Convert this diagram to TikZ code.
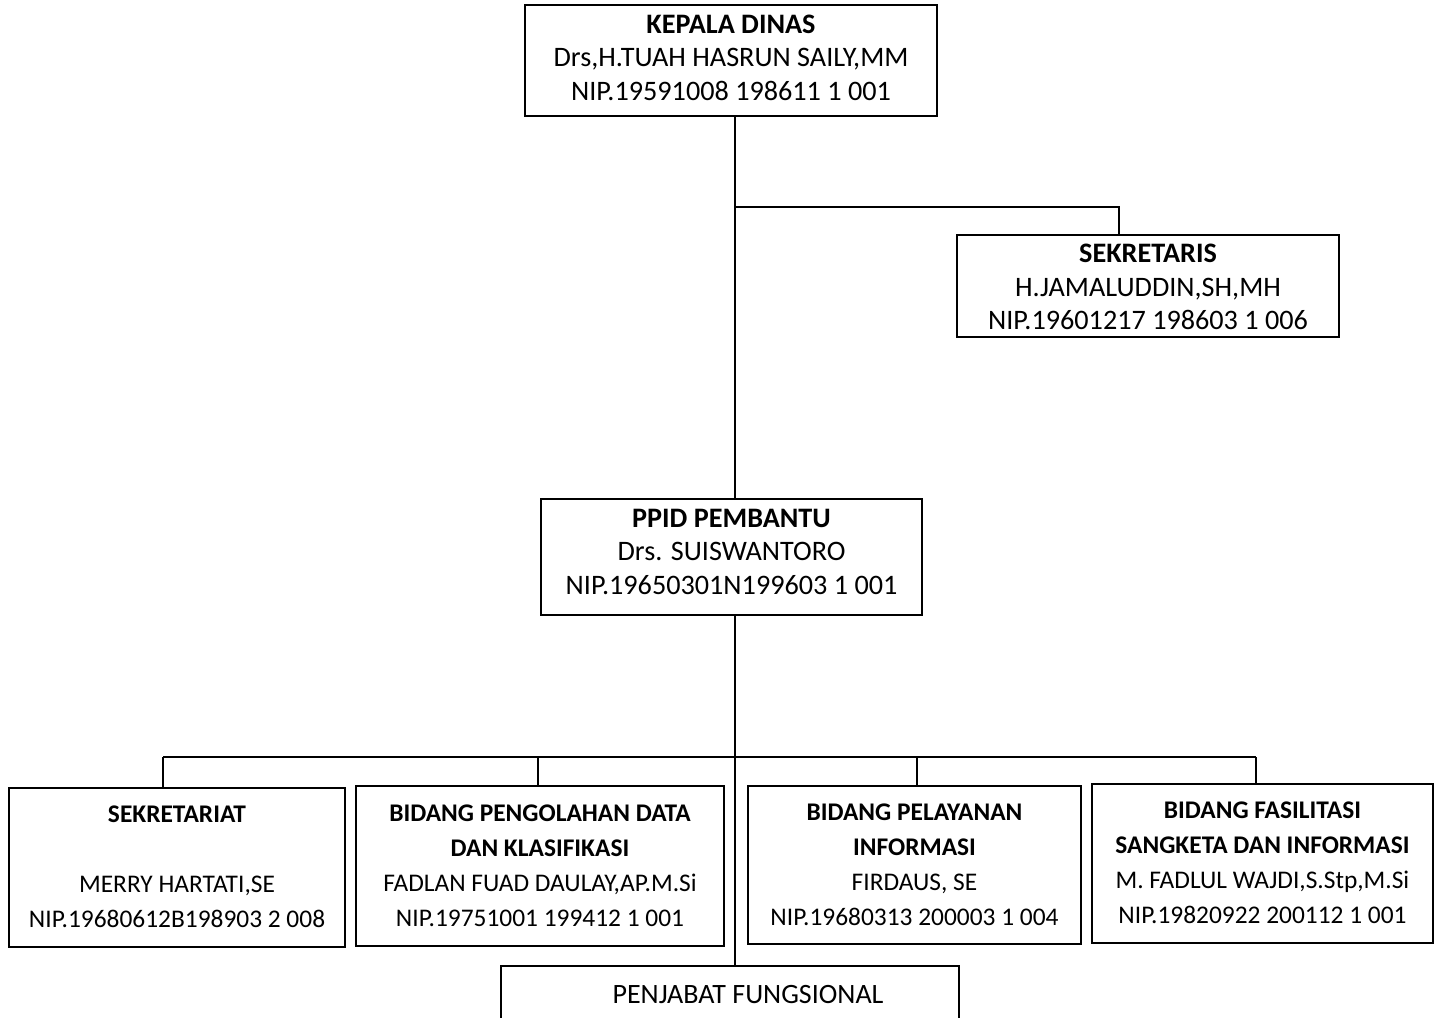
\documentclass[tikz,border=0pt]{standalone}
\usepackage{fontspec}
\setmainfont{Carlito}
\begin{document}
\begin{tikzpicture}[x=1pt,y=-1pt,
  line width=1.8pt,
  box/.style={draw, fill=white, inner sep=0pt},
  txt/.style={align=center, inner sep=0pt},
  topfont/.style={font=\fontsize{28.2}{33.5}\selectfont},
  botfont/.style={font=\fontsize{25.4}{35}\selectfont}]
\useasboundingbox (0,0) rectangle (1436,1018);
\clip (0,0) rectangle (1436,1018);
\coordinate (trunk) at (735,0);
\coordinate (j1) at (735,207);
\coordinate (d1) at (1119,207);
\coordinate (b1) at (163,757);
\coordinate (b2) at (538,757);
\coordinate (b3) at (917,757);
\coordinate (b4) at (1256,757);
% boxes
\node[box, minimum width=412, minimum height=111] (kd) at (731,60.5) {};
\node[box, minimum width=382, minimum height=102] (sk) at (1148,286) {};
\node[box, minimum width=381, minimum height=116] (pp) at (731.5,557) {};
\node[box, minimum width=336, minimum height=159] (s1) at (177,867.5) {};
\node[box, minimum width=368, minimum height=160] (s2) at (540,866) {};
\node[box, minimum width=333, minimum height=158] (s3) at (914.5,865) {};
\node[box, minimum width=341, minimum height=159] (s4) at (1262.5,863.5) {};
\node[box, minimum width=458, minimum height=64] (pf) at (730,998) {};
% texts
\node[txt, topfont] (kdt) at (731,57.5)
  {\textbf{KEPALA DINAS}\\Drs,H.TUAH HASRUN SAILY,MM\\NIP.19591008 198611 1 001};
\node[txt, topfont] (skt) at (1148,287)
  {\textbf{SEKRETARIS}\\H.JAMALUDDIN,SH,MH\\NIP.19601217 198603 1 006};
\node[txt, topfont] (ppt) at (731.5,551.5)
  {\textbf{PPID PEMBANTU}\\Drs. SUISWANTORO\\NIP.19650301N199603 1 001};
\node[txt, botfont] (s1t) at (177,866.5)
  {\textbf{SEKRETARIAT}\\ \\MERRY HARTATI,SE\\NIP.19680612B198903 2 008};
\node[txt, botfont] (s2t) at (540,865.5)
  {\textbf{BIDANG PENGOLAHAN DATA}\\\textbf{DAN KLASIFIKASI}\\FADLAN FUAD DAULAY,AP.M.Si\\NIP.19751001 199412 1 001};
\node[txt, botfont] (s3t) at (914.5,864.5)
  {\textbf{BIDANG PELAYANAN}\\\textbf{INFORMASI}\\FIRDAUS, SE\\NIP.19680313 200003 1 004};
\node[txt, botfont] (s4t) at (1262.5,863)
  {\textbf{BIDANG FASILITASI}\\\textbf{SANGKETA DAN INFORMASI}\\M. FADLUL WAJDI,S.Stp,M.Si\\NIP.19820922 200112 1 001};
\node[txt, font=\fontsize{28}{33.5}\selectfont] (pft) at (748,995) {PENJABAT FUNGSIONAL};
% connectors
\draw (kd.south -| trunk) -- (pp.north -| trunk);
\draw (pp.south -| trunk) -- (pf.north -| trunk);
\draw (j1) -- (d1) -- (d1 |- sk.north);
\draw (b1) -- (b4);
\draw (b1) -- (b1 |- s1.north);
\draw (b2) -- (b2 |- s2.north);
\draw (b3) -- (b3 |- s3.north);
\draw (b4) -- (b4 |- s4.north);
\end{tikzpicture}
\end{document}
